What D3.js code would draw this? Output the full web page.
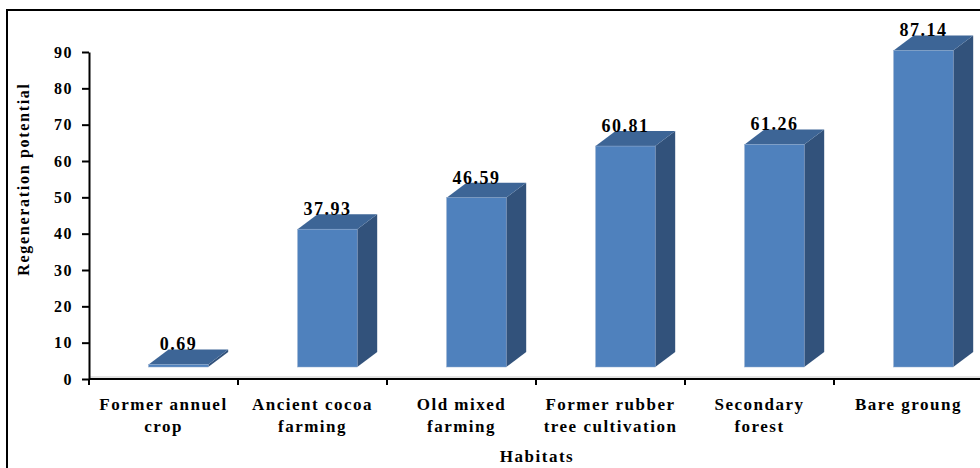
<!DOCTYPE html>
<html>
<head>
<meta charset="utf-8">
<script src="https://cdn.jsdelivr.net/npm/d3@7"></script>
<style>
  html, body { margin: 0; padding: 0; background: #fff; }
  svg text { font-family: "Liberation Serif", "Times New Roman", serif; font-weight: bold; fill: #000; }
</style>
</head>
<body>
<svg id="chart" width="980" height="468"></svg>
<script>
// Habitat categories (each split into its display lines)
const categories = [
  "Former annuel crop",
  "Ancient cocoa farming",
  "Old mixed farming",
  "Former rubber tree cultivation",
  "Secondary forest",
  "Bare groung"
];
const categoryLines = [
  ["Former annuel", "crop"],
  ["Ancient cocoa", "farming"],
  ["Old mixed", "farming"],
  ["Former rubber", "tree cultivation"],
  ["Secondary", "forest"],
  ["Bare groung"]
];
// Regeneration potential per habitat
const values = [0.69, 37.93, 46.59, 60.81, 61.26, 87.14];
// Y axis tick values
const yTicks = [0, 10, 20, 30, 40, 50, 60, 70, 80, 90];

const svg = d3.select("#chart");

// Outer frame of the chart area
svg.append("rect")
  .attr("x", 7).attr("y", 10)
  .attr("width", 1000).attr("height", 500)
  .attr("fill", "#fff")
  .attr("stroke", "#000").attr("stroke-width", 2);

const plotLeft = 89, plotRight = 983, plotTop = 52, plotBottom = 379;

const x = d3.scaleBand().domain(categories).range([plotLeft, plotRight]).padding(0);
const y = d3.scaleLinear().domain([0, 90]).range([plotBottom, plotTop]);

// 3D column geometry
const depthX = 20, depthY = -15, floorLift = 12;
const bw = x.bandwidth();

// floor edge just behind the category axis
svg.append("line")
  .attr("x1", plotLeft).attr("x2", plotRight)
  .attr("y1", plotBottom - 2).attr("y2", plotBottom - 2)
  .attr("stroke", "#c8c8c8").attr("stroke-width", 1);

const bars = svg.append("g").selectAll("g")
  .data(categories.map((c, i) => ({ c, v: values[i] })))
  .join("g");

function geom(d) {
  const x0 = x(d.c) + bw * 0.4;
  const x1 = x(d.c) + bw * 0.8;
  const yb = y(0) - floorLift;
  const yt = y(d.v) - floorLift;
  return { x0, x1, yb, yt };
}

// side face
bars.append("path")
  .attr("d", d => {
    const g = geom(d);
    return `M${g.x1},${g.yb} L${g.x1 + depthX},${g.yb + depthY} L${g.x1 + depthX},${g.yt + depthY} L${g.x1},${g.yt} Z`;
  })
  .attr("fill", "#32527b");

// top face
bars.append("path")
  .attr("d", d => {
    const g = geom(d);
    return `M${g.x0},${g.yt} L${g.x0 + depthX},${g.yt + depthY} L${g.x1 + depthX},${g.yt + depthY} L${g.x1},${g.yt} Z`;
  })
  .attr("fill", "#3d6596");

// front face
bars.append("rect")
  .attr("x", d => geom(d).x0)
  .attr("y", d => geom(d).yt)
  .attr("width", bw * 0.4)
  .attr("height", d => geom(d).yb - geom(d).yt)
  .attr("fill", "#4f81bd")
  .attr("stroke", "#8fa9cc").attr("stroke-width", 0.5);

// value labels
bars.append("text")
  .attr("x", d => (geom(d).x0 + geom(d).x1) / 2)
  .attr("y", d => geom(d).yt - 14)
  .attr("text-anchor", "middle")
  .attr("font-size", 18)
  .attr("letter-spacing", 1.5)
  .text(d => d.v.toFixed(2));

// Y axis
const yAxis = svg.append("g")
  .attr("transform", `translate(${plotLeft},0)`)
  .call(d3.axisLeft(y).tickValues(yTicks).tickSize(7).tickPadding(9).tickSizeOuter(0));
yAxis.select(".domain").attr("stroke", "#000").attr("stroke-width", 2);
yAxis.selectAll(".tick line").attr("stroke", "#000").attr("stroke-width", 2);
yAxis.selectAll(".tick text")
  .attr("font-size", 16)
  .attr("letter-spacing", 1.5)
  .attr("font-family", null)
  .attr("fill", "#000");

// X axis (category boundaries as ticks)
const xAxis = svg.append("g")
  .attr("transform", `translate(0,${plotBottom})`);
xAxis.append("line")
  .attr("x1", plotLeft).attr("x2", plotRight)
  .attr("stroke", "#000").attr("stroke-width", 2);
xAxis.selectAll("line.tick")
  .data(categories)
  .join("line")
  .attr("class", "tick")
  .attr("x1", d => x(d)).attr("x2", d => x(d))
  .attr("y1", 0).attr("y2", 6)
  .attr("stroke", "#000").attr("stroke-width", 2);

const catLabels = xAxis.selectAll("text.cat")
  .data(categories)
  .join("text")
  .attr("class", "cat")
  .attr("text-anchor", "middle")
  .attr("font-size", 17)
  .attr("letter-spacing", 1.5);
catLabels.each(function (d, i) {
  const t = d3.select(this);
  categoryLines[i].forEach((line, j) => {
    t.append("tspan")
      .attr("x", x(d) + bw / 2)
      .attr("y", 31 + j * 22)
      .text(line);
  });
});

// Axis titles
svg.append("text")
  .attr("x", 537).attr("y", 462)
  .attr("text-anchor", "middle")
  .attr("font-size", 17)
  .attr("letter-spacing", 1.5)
  .text("Habitats");

svg.append("text")
  .attr("transform", "translate(29,179) rotate(-90)")
  .attr("text-anchor", "middle")
  .attr("font-size", 16)
  .attr("letter-spacing", 1.7)
  .text("Regeneration potential");
</script>
</body>
</html>
